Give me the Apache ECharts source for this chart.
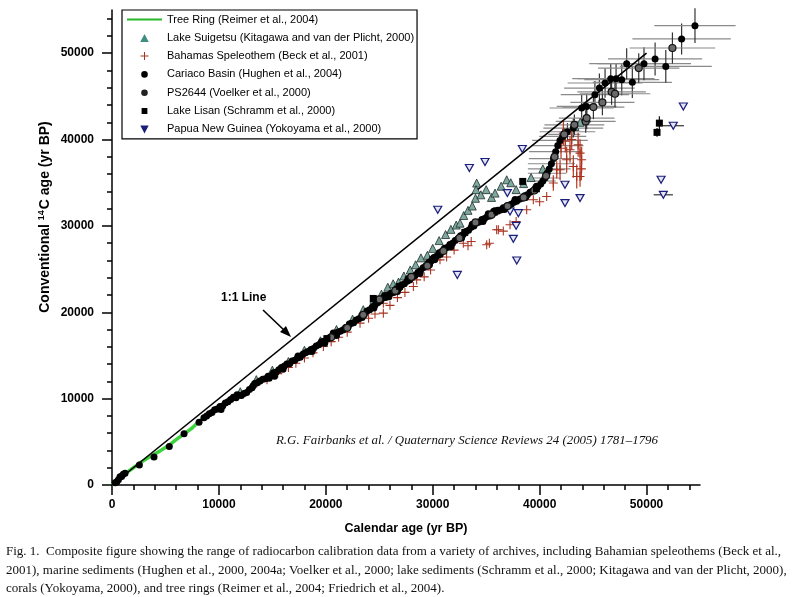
<!DOCTYPE html>
<html>
<head>
<meta charset="utf-8">
<script src="https://cdn.jsdelivr.net/npm/echarts@6/dist/echarts.min.js"></script>
<style>html,body{margin:0;padding:0;background:#fff;}#c{width:800px;height:597px;}</style>
</head>
<body>
<div id="c"></div>
<script>
// ---------- DATA (calendar age, 14C age[, calErr, c14Err]) ----------
const xMajorTicks = [0, 10000, 20000, 30000, 40000, 50000];
const yMajorTicks = [0, 10000, 20000, 30000, 40000, 50000];
const xMinorTicks = [2000,4000,6000,8000,12000,14000,16000,18000,22000,24000,26000,28000,32000,34000,36000,38000,42000,44000,46000,48000,52000,54000];
const yMinorTicks = [2000,4000,6000,8000,12000,14000,16000,18000,22000,24000,26000,28000,32000,34000,36000,38000,42000,44000,46000,48000,52000,54000];

const oneToOne = [[0, 0], [50000, 50000]];

const treeRing = [[0,0],[500,430],[1000,1100],[1500,1550],[2000,2000],[2500,2450],[3000,2850],[3500,3250],[4000,3600],[4500,3950],[5000,4350],[5500,4750],[6000,5250],[6500,5700],[7000,6150],[7500,6600],[8000,7200],[8500,7700],[9000,8100],[9500,8450],[10000,8900],[10500,9300],[11000,9650],[11500,10000],[12000,10300],[12400,10450]];

const lakeSuigetsu = [[12000,10800],[13500,12200],[15000,13300],[16500,14300],[18000,15600],[19500,16700],[21000,18000],[22500,19200],[23500,20300],[24500,21500],[25200,22100],[25800,22900],[26300,23300],[26800,23500],[27300,24200],[27900,24900],[28400,25500],[28900,26300],[29500,26600],[30000,27400],[30600,28300],[31200,29000],[31700,29600],[32200,30100],[32550,30320],[32900,31200],[33300,31800],[33700,32300],[34000,33200],[34110,34960],[34050,34200],[34500,33600],[35000,34200],[35500,33300],[35830,33800],[36400,34600],[36920,35340],[37300,35000],[37800,34200],[38500,34900],[39200,35600],[40300,36600],[43310,41520],[43800,42000],[44400,42490]];

const bahamas = [[13540,11790],[14500,12200],[15500,12900],[16500,13600],[17200,14100],[18000,14700],[18800,15300],[19770,16030],[20500,16600],[21200,17100],[22000,17700],[23200,18740],[24000,19300],[24600,19800],[25380,19900],[25380,21050],[26000,20800],[26700,21700],[27400,22300],[28190,22980],[28500,23750],[29200,24100],[29800,24900],[30680,26070],[31300,26400],[32000,27200],[32860,28000],[33300,27700],[33600,28200],[35050,27810],[35300,28000],[35980,29550],[36140,29550],[36600,29400],[37230,30130],[37800,30500],[38790,31870],[39410,33030],[40000,32800],[40660,33400],[41280,34960,0,900],[41600,36500,0,1000],[41910,36500,0,1200],[42220,40750,0,1400],[42530,37660,0,1500],[42840,38820,0,1500],[43150,36880,0,1300],[43470,35720,0,1400],[43780,38430,0,1600],[43780,35720,0,1200],[43930,37660,0,1500],[42000,39000,0,1200],[42400,39800,0,1300],[43000,40000,0,1200],[43600,39400,0,1400],[43900,36600,0,1300]];

const cariaco = [[300,250],[450,380],[600,600],[750,960],[900,980],[1050,1250],[1220,1350],[2560,2320],[3930,3250],[5360,4450],[6740,5920],[8140,7260],
[8600,7800],[8850,8000],[9100,8250],[9350,8400],[9600,8700],[9850,8800],[10100,9100],[10350,9150],[10600,9500],[10850,9650],[11100,9900],[11350,10150],[11600,10100],[11850,10400],[12100,10350],[12350,10600],[12600,10700],[12850,11050],[13100,11250],[13350,11750],[13600,11850],[13850,12050],[14100,12250],[14350,12300],[14600,12600],[14850,12650],[15100,13000],[15350,13050],[15600,13350],[15850,13600],[16100,13750],[16350,14000],[16600,14050],[16850,14350],[17100,14450],[17350,14700],[17600,14800],[17850,15150],[18100,15300],[18350,15450],[18600,15700],[18850,15800],[19100,16100],[19350,16250],[19600,16600],[19850,16650],[20100,16900],[20350,17050],[20600,17250],[20850,17400],[21100,17700],[21350,17800],[21600,17950],[21850,18250],[22100,18350],[22350,18700],[22600,18800],[22850,19100],[23100,19250],[23350,19600],[23600,19750],[23850,20150],[24100,20300],[24350,20600],[24600,20850],[24850,21100],[25100,21300],[25350,21650],[25600,21700],[25850,22000],[26100,22200],[26350,22300],[26600,22700],[26850,22800],[27100,23150],[27350,23300],[27600,23600],[27850,23750],[28100,24050],[28350,24250],[28600,24600],[28850,24800],[29100,25150],[29350,25350],[29600,25750],[29850,25950],[30100,26350],[30350,26500],[30600,26900],[30850,27050],[31100,27400],[31350,27500],[31600,27850],[31850,28000],[32100,28300],[32350,28500],[32600,28850],[32850,29000],[33100,29350],[33350,29500],[33600,29850],[33850,30000],[34100,30350],[34350,30450],[34600,30750],[34850,30850],[35100,31100],[35350,31150],[35600,31450],[35850,31550],[36100,31800],[36350,31850],[36600,32100],[36850,32150],[37100,32400],[37350,32500],[37600,32750],[37850,32850],[38100,33100],[38350,33200],[38600,33500],[38850,33600],[39100,33900],[39350,34050],[39600,34350],[39850,34550],[40100,34850],
[10200,8750],[11700,10450],[13200,11500],[14700,12350],[16000,13400],[17400,14950],[18700,15450],[19900,16400],[21000,17300],[22200,18650],[23400,19400],[24500,20500],[25500,21950],[26700,22400],[27700,23900],[28800,24500],[29700,25500],[30700,26700],[31700,27600],[32700,28600],[33700,30200],[34700,30500],[35700,31700],[36700,31900],[37700,33050],[38700,33300],[39700,34600],[15200,12600],[20700,17600],[25900,21800],[30200,26100],[35200,31400],
[40300,35200,1200,400],[40500,35550,1500,400],[40700,36100,1800,500],[40900,36600,2000,500],[41100,37200,2200,600],[41300,37800,2300,600],[41500,38600,2500,700],[41700,39300,2400,700],[41900,39900,2600,800],
[42160,40360,2200,900],[42600,40900,2600,1000],[43150,41330,2800,1100],[43930,43650,3000,1600],[44400,43830,2800,1500],[45170,45190,3200,1600],[45590,45960,3300,1700],[46120,46550,3500,1700],[46650,47050,3600,1800],[47150,47050,3600,1800],[47680,46930,3500,1800],[48140,48780,3500,1800],[48670,46620,3700,1800],[49760,48780,4400,1900],[50800,49330,4400,1900],[51800,48470,4300,1900],[53280,51650,4600,1800],[54530,53190,3800,2000]];

const ps2644 = [[20500,17100],[22000,18200],[23500,19700],[25000,21500],[26500,22500],[28000,24100],[29500,25400],[31000,27100],[32500,28600],[34000,30400],[35500,31300],[37000,32300],[38500,33300],[39500,34100],[40600,35800],[41400,38000],[42300,40600,1500,700],[43250,41710,2800,1200],[44310,42100,2800,1300],[44400,42490,2600,1300],[45030,43760,2900,1400],[45870,44300,3000,1500],[46730,45520,3200,1500],[47050,45300,3300,1600],[49270,48280,3800,1700],[52420,50600,4000,1800]];

const lakeLisan = [[20100,16950],[24440,21600],[26900,23000],[30000,26100],[33000,29250],[36000,31750],[38420,35150],[39700,34300],[50980,40830,0,500],[51200,41900,0,800]];

const papua = [[30470,31870],[32300,24330],[33430,36700],[34890,37400],[36980,33800],[37230,31670],[37540,28500],[37800,30010],[37860,25990],[38010,31480],[38380,38900],[42370,34760],[42370,32640],[43780,33220],[51360,35340],[51570,33600,900,0],[52500,41600,1000,0],[53440,43830]];

const legendNames = ['Tree Ring (Reimer et al., 2004)','Lake Suigetsu (Kitagawa and van der Plicht, 2000)','Bahamas Speleothem (Beck et al., 2001)','Cariaco Basin (Hughen et al., 2004)','PS2644 (Voelker et al., 2000)','Lake Lisan (Schramm et al., 2000)','Papua New Guinea (Yokoyama et al., 2000)'];

const captionLines = [
 'Fig. 1.  Composite figure showing the range of radiocarbon calibration data from a variety of archives, including Bahamian speleothems (Beck et al.,',
 '2001), marine sediments (Hughen et al., 2000, 2004a; Voelker et al., 2000; lake sediments (Schramm et al., 2000; Kitagawa and van der Plicht, 2000),',
 'corals (Yokoyama, 2000), and tree rings (Reimer et al., 2004; Friedrich et al., 2004).'
];
const citation = 'R.G. Fairbanks et al. / Quaternary Science Reviews 24 (2005) 1781\u20131796';
const xAxisTitle = 'Calendar age (yr BP)';
const yAxisTitle = ['Conventional ', '14', 'C age (yr BP)'];

// ---------- CHART ----------
const SANS = '"Liberation Sans", Arial, sans-serif';
const SERIF = '"Liberation Serif", "Times New Roman", serif';
const chart = echarts.init(document.getElementById('c'), null, {renderer: 'canvas'});

const pts = arr => arr.map(p => [p[0], p[1]]);
const errs = arr => arr.filter(p => (p[2] || 0) > 0 || (p[3] || 0) > 0).map(p => [p[0], p[1], p[2] || 0, p[3] || 0]);

function errRender(hColor, vColor) {
  return function (params, api) {
    const x = api.value(0), y = api.value(1), ex = api.value(2), ey = api.value(3);
    const children = [];
    if (ex > 0) {
      const l = api.coord([x - ex, y]), r = api.coord([x + ex, y]);
      children.push({type: 'line', shape: {x1: l[0], y1: l[1], x2: r[0], y2: r[1]}, style: {stroke: hColor, lineWidth: 1.2}});
    }
    if (ey > 0) {
      const t = api.coord([x, y + ey]), b = api.coord([x, y - ey]);
      children.push({type: 'line', shape: {x1: t[0], y1: t[1], x2: b[0], y2: b[1]}, style: {stroke: vColor, lineWidth: 1.2}});
    }
    return {type: 'group', children};
  };
}
function errSeries(name, arr, h, v) {
  return {name, type: 'custom', silent: true, z: 1, renderItem: errRender(h, v),
    encode: {x: 0, y: 1}, data: errs(arr), animation: false};
}

const crossPath = 'path://M4.4,0 L5.6,0 L5.6,4.4 L10,4.4 L10,5.6 L5.6,5.6 L5.6,10 L4.4,10 L4.4,5.6 L0,5.6 L0,4.4 L4.4,4.4 Z';
// legend icons in a 35x9 box (corner anchors keep the box size)
const A = 'M0,0 L0.01,0 L0,0.01 Z M35,9 L34.99,9 L35,8.99 Z ';
const iconLine = 'path://' + A + 'M0,3.5 L35,3.5 L35,5.5 L0,5.5 Z';
const iconTri = 'path://' + A + 'M13.2,8.6 L17.5,0.6 L21.8,8.6 Z';
const iconCross = 'path://' + A + 'M17,0.5 L18,0.5 L18,4 L21.5,4 L21.5,5 L18,5 L18,8.5 L17,8.5 L17,5 L13.5,5 L13.5,4 L17,4 Z';
const iconCircle = 'path://' + A + 'M14.2,4.5 A3.3,3.3 0 1,0 20.8,4.5 A3.3,3.3 0 1,0 14.2,4.5 Z';
const iconSquare = 'path://' + A + 'M14.6,1.6 L20.4,1.6 L20.4,7.4 L14.6,7.4 Z';
const iconInvTri = 'path://' + A + 'M13.3,0.6 L21.7,0.6 L17.5,8.6 Z';

const axisCommon = {
  type: 'value', min: 0, max: 55000,
  axisLine: {show: true, lineStyle: {color: '#000', width: 1.5}},
  splitLine: {show: false},
};
const fmt = v => String(v);

chart.setOption({
  animation: false,
  backgroundColor: '#fff',
  grid: {left: 112, right: 100, top: 10, bottom: 112, containLabel: false},
  xAxis: [
    Object.assign({}, axisCommon, {
      name: xAxisTitle, nameLocation: 'middle', nameGap: 37,
      nameTextStyle: {fontFamily: SANS, fontWeight: 'bold', fontSize: 12.5, color: '#000'},
      axisTick: {show: true, inside: false, length: 10, lineStyle: {color: '#000', width: 1.5}, customValues: xMajorTicks},
      axisLabel: {fontFamily: SANS, fontWeight: 'bold', fontSize: 12, color: '#000', margin: 14, customValues: xMajorTicks, formatter: fmt}
    }),
    Object.assign({}, axisCommon, {
      position: 'bottom', axisLine: {show: false},
      axisTick: {show: true, inside: false, length: 5, lineStyle: {color: '#000', width: 1.5}, customValues: xMinorTicks},
      axisLabel: {show: false}
    })
  ],
  yAxis: [
    Object.assign({}, axisCommon, {
      axisTick: {show: true, inside: false, length: 10, lineStyle: {color: '#000', width: 1.5}, customValues: yMajorTicks},
      axisLabel: {fontFamily: SANS, fontWeight: 'bold', fontSize: 12, color: '#000', margin: 18, customValues: yMajorTicks, formatter: fmt}
    }),
    Object.assign({}, axisCommon, {
      position: 'left', axisLine: {show: false},
      axisTick: {show: true, inside: false, length: 5, lineStyle: {color: '#000', width: 1.5}, customValues: yMinorTicks},
      axisLabel: {show: false}
    })
  ],
  legend: {
    orient: 'vertical', left: 122, top: 10, padding: [4, 3, 4, 5],
    borderColor: '#000', borderWidth: 1.2, backgroundColor: '#fff',
    itemWidth: 35, itemHeight: 9, itemGap: 7.3, selectedMode: false,
    textStyle: {fontFamily: SANS, fontSize: 11, color: '#000'},
    data: [
      {name: legendNames[0], icon: iconLine, itemStyle: {color: '#28b828', borderWidth: 0}},
      {name: legendNames[1], icon: iconTri, itemStyle: {color: '#3f8f80', borderWidth: 0}},
      {name: legendNames[2], icon: iconCross, itemStyle: {color: '#a8321f', borderWidth: 0}},
      {name: legendNames[3], icon: iconCircle, itemStyle: {color: '#000', borderWidth: 0}},
      {name: legendNames[4], icon: iconCircle, itemStyle: {color: '#222', borderWidth: 0}},
      {name: legendNames[5], icon: iconSquare, itemStyle: {color: '#000', borderWidth: 0}},
      {name: legendNames[6], icon: iconInvTri, itemStyle: {color: '#1b1f7a', borderWidth: 0}}
    ]
  },
  series: [
    errSeries('errC', cariaco, '#8a8a8a', '#333'),
    errSeries('errP', ps2644, '#8a8a8a', '#333'),
    errSeries('errB', bahamas, '#a8321f', '#b8361f'),
    errSeries('errL', lakeLisan, '#333', '#111'),
    errSeries('errG', papua, '#333', '#333'),
    {name: 'oneToOne', type: 'line', data: oneToOne, symbol: 'none', silent: true, z: 3,
      lineStyle: {color: '#000', width: 1.6}},
    {name: legendNames[0], type: 'line', data: treeRing, symbol: 'none', z: 2, smooth: false,
      lineStyle: {color: '#3ed23e', width: 3.5}, itemStyle: {color: '#3ed23e'}},
    {name: legendNames[1], type: 'scatter', data: pts(lakeSuigetsu), symbol: 'triangle', symbolSize: 8, z: 4,
      itemStyle: {color: '#7fa89f', borderColor: '#1d2d2a', borderWidth: 0.8, opacity: 1}},
    {name: legendNames[2], type: 'scatter', data: pts(bahamas), symbol: crossPath, symbolSize: 9, z: 4,
      itemStyle: {color: '#a8321f', opacity: 1}},
    {name: legendNames[6], type: 'scatter', data: pts(papua), symbol: 'path://M0,0 L10,0 L5,9 Z', symbolSize: [8, 7], z: 4,
      itemStyle: {color: '#e4e4f4', borderColor: '#1b1f7a', borderWidth: 1.2, opacity: 1}},
    {name: legendNames[3], type: 'scatter', data: pts(cariaco), symbol: 'circle', symbolSize: 7, z: 5,
      itemStyle: {color: '#000', opacity: 1}},
    {name: legendNames[4], type: 'scatter', data: pts(ps2644), symbol: 'circle', symbolSize: 7, z: 6,
      itemStyle: {color: '#6a6a6a', borderColor: '#111', borderWidth: 1.2, opacity: 1}},
    {name: legendNames[5], type: 'scatter', data: pts(lakeLisan), symbol: 'rect', symbolSize: 7, z: 6,
      itemStyle: {color: '#000', opacity: 1}}
  ],
  graphic: [
    {type: 'text', x: 45, y: 217, rotation: Math.PI / 2,
      style: {text: '{b|' + yAxisTitle[0] + '}{s|' + yAxisTitle[1] + '}{b|' + yAxisTitle[2] + '}', align: 'center', verticalAlign: 'middle',
        rich: {b: {font: 'bold 14px ' + SANS, fill: '#000', verticalAlign: 'bottom'},
               s: {font: 'bold 9px ' + SANS, fill: '#000', verticalAlign: 'bottom', padding: [0, 1, 6, 0]}}}},
    {type: 'text', left: 221, top: 292, style: {text: '1:1 Line', font: 'bold 12px ' + SANS, fill: '#000'}},
    {type: 'line', shape: {x1: 263, y1: 310, x2: 285, y2: 331}, style: {stroke: '#000', lineWidth: 1.6}},
    {type: 'polygon', shape: {points: [[291, 337], [280, 332], [286, 326]]}, style: {fill: '#000'}},
    {type: 'text', left: 276, top: 434, style: {text: citation, font: 'italic 12.9px ' + SERIF, fill: '#111'}},
    {type: 'text', left: 6, top: 545, style: {text: captionLines[0], font: '13px ' + SERIF, fill: '#111'}},
    {type: 'text', left: 6, top: 564, style: {text: captionLines[1], font: '13px ' + SERIF, fill: '#111'}},
    {type: 'text', left: 6, top: 582, style: {text: captionLines[2], font: '13px ' + SERIF, fill: '#111'}}
  ]
});
</script>
</body>
</html>
